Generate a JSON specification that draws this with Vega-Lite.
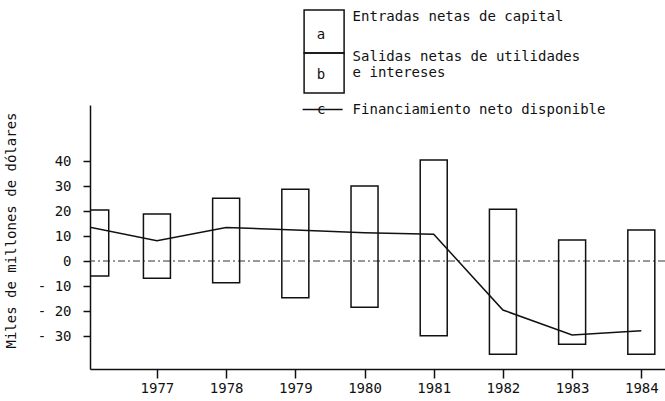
{
  "$schema": "https://vega.github.io/schema/vega-lite/v6.json",
  "width": 575,
  "height": 264,
  "autosize": {"type": "none"},
  "padding": {"left": 90, "top": 105, "right": 0, "bottom": 32},
  "background": "white",
  "config": {
    "font": "DejaVu Sans Mono",
    "view": {"stroke": null},
    "axis": {"labelFont": "DejaVu Sans Mono", "titleFont": "DejaVu Sans Mono", "labelColor": "#111", "titleColor": "#111", "domainColor": "#111", "tickColor": "#111", "grid": false, "labelOverlap": false},
    "legend": {"padding": 0, "labelFont": "DejaVu Sans Mono", "labelFontSize": 14, "labelColor": "#111", "labelLimit": 400, "titleFont": "DejaVu Sans Mono", "titleFontSize": 14, "titleFontWeight": "normal", "titleColor": "#111", "titleOrient": "left", "titleAnchor": "middle", "symbolStrokeColor": "#111", "symbolStrokeWidth": 1.5, "symbolFillColor": "white", "symbolOpacity": 1}
  },
  "datasets": {
    "barras": [
      {"anio": 1976, "serie": "Entradas netas de capital", "valor": 20.4},
      {"anio": 1976, "serie": "Salidas netas de utilidades e intereses", "valor": -6.0},
      {"anio": 1977, "serie": "Entradas netas de capital", "valor": 18.8},
      {"anio": 1977, "serie": "Salidas netas de utilidades e intereses", "valor": -6.9},
      {"anio": 1978, "serie": "Entradas netas de capital", "valor": 25.1},
      {"anio": 1978, "serie": "Salidas netas de utilidades e intereses", "valor": -8.7},
      {"anio": 1979, "serie": "Entradas netas de capital", "valor": 28.7},
      {"anio": 1979, "serie": "Salidas netas de utilidades e intereses", "valor": -14.7},
      {"anio": 1980, "serie": "Entradas netas de capital", "valor": 30.0},
      {"anio": 1980, "serie": "Salidas netas de utilidades e intereses", "valor": -18.5},
      {"anio": 1981, "serie": "Entradas netas de capital", "valor": 40.4},
      {"anio": 1981, "serie": "Salidas netas de utilidades e intereses", "valor": -29.9},
      {"anio": 1982, "serie": "Entradas netas de capital", "valor": 20.7},
      {"anio": 1982, "serie": "Salidas netas de utilidades e intereses", "valor": -37.3},
      {"anio": 1983, "serie": "Entradas netas de capital", "valor": 8.4},
      {"anio": 1983, "serie": "Salidas netas de utilidades e intereses", "valor": -33.3},
      {"anio": 1984, "serie": "Entradas netas de capital", "valor": 12.4},
      {"anio": 1984, "serie": "Salidas netas de utilidades e intereses", "valor": -37.3}
    ],
    "linea": [
      {"anio": 1976, "serie": "Financiamiento neto disponible", "valor": 13.7},
      {"anio": 1977, "serie": "Financiamiento neto disponible", "valor": 8.1},
      {"anio": 1978, "serie": "Financiamiento neto disponible", "valor": 13.4},
      {"anio": 1979, "serie": "Financiamiento neto disponible", "valor": 12.4},
      {"anio": 1980, "serie": "Financiamiento neto disponible", "valor": 11.3},
      {"anio": 1981, "serie": "Financiamiento neto disponible", "valor": 10.7},
      {"anio": 1982, "serie": "Financiamiento neto disponible", "valor": -19.6},
      {"anio": 1983, "serie": "Financiamiento neto disponible", "valor": -29.6},
      {"anio": 1984, "serie": "Financiamiento neto disponible", "valor": -27.9}
    ]
  },
  "layer": [
    {
      "data": {"values": [{}]},
      "mark": {"type": "rule", "stroke": "#333", "strokeWidth": 1, "strokeDash": [7, 3, 2, 3]},
      "encoding": {"y": {"datum": 0, "type": "quantitative"}}
    },
    {
      "data": {"name": "barras"},
      "transform": [{"pivot": "serie", "value": "valor", "groupby": ["anio"]}],
      "mark": {"type": "bar", "orient": "vertical", "fill": "transparent", "stroke": "#111", "strokeWidth": 1.5, "clip": true},
      "encoding": {
        "x": {
          "field": "anio", "type": "quantitative",
          "scale": {"domain": [1976.105, 1984.27], "nice": false, "zero": false},
          "axis": {"values": [1977, 1978, 1979, 1980, 1981, 1982, 1983, 1984], "tickCount": 10, "format": "d", "title": null, "domainWidth": 1.5, "tickWidth": 1.5, "tickSize": 9, "labelFontSize": 14, "labelPadding": 3}
        },
        "y": {
          "field": "Entradas netas de capital", "type": "quantitative",
          "scale": {"domain": [-43.2, 62.4], "nice": false, "zero": false},
          "axis": {"values": [-30, -20, -10, 0, 10, 20, 30, 40], "tickCount": 10, "labelOverlap": false, "labelExpr": "datum.value < 0 ? '- ' + abs(datum.value) : datum.label", "title": "Miles de millones de dólares", "titleFontSize": 14, "titleFontWeight": "normal", "titleX": -79, "titleY": 125, "titleAngle": -90, "titleAlign": "center", "titleBaseline": "middle", "domainWidth": 1.5, "tickWidth": 1.5, "tickSize": 7, "labelFontSize": 14, "labelPadding": 12}
        },
        "y2": {"field": "Salidas netas de utilidades e intereses"},
        "size": {"condition": {"test": "datum.anio == 1976", "value": 42}, "value": 27}
      }
    },
    {
      "data": {"name": "barras"},
      "transform": [{"filter": "datum.serie == 'Entradas netas de capital'"}],
      "mark": {"type": "bar", "orient": "vertical", "fill": "transparent", "strokeWidth": 1.5, "opacity": 0, "clip": true},
      "encoding": {
        "x": {"field": "anio", "type": "quantitative"},
        "y": {"field": "valor", "type": "quantitative"},
        "y2": {"datum": 0},
        "size": {"value": 27},
        "stroke": {
          "field": "serie", "type": "nominal",
          "scale": {"range": ["#111"]},
          "legend": {
            "title": "a", "orient": "none", "legendX": 226.8, "legendY": -91, "titlePadding": -8.7,
            "symbolType": "M-4,-2.2H4V6.4H-4Z", "symbolSize": 100,
            "labelBaseline": "alphabetic", "labelOffset": 21.5
          }
        }
      }
    },
    {
      "data": {"name": "barras"},
      "transform": [{"filter": "datum.serie == 'Salidas netas de utilidades e intereses'"}],
      "mark": {"type": "bar", "orient": "vertical", "fill": "transparent", "strokeWidth": 1.5, "opacity": 0, "clip": true},
      "encoding": {
        "x": {"field": "anio", "type": "quantitative"},
        "y": {"field": "valor", "type": "quantitative"},
        "y2": {"datum": 0},
        "size": {"value": 27},
        "stroke": {
          "field": "serie", "type": "nominal",
          "scale": {"range": ["#111"]},
          "legend": {
            "title": "b", "orient": "none", "legendX": 226.8, "legendY": -50.8, "titlePadding": -8.7,
            "symbolType": "M-4,-1.64H4V6.36H-4Z", "symbolSize": 100,
            "labelBaseline": "alphabetic", "labelOffset": 21.5,
            "labelExpr": "datum.label == 'Salidas netas de utilidades e intereses' ? ['Salidas netas de utilidades', 'e intereses'] : datum.label"
          }
        }
      }
    },
    {
      "data": {"name": "linea"},
      "mark": {"type": "line", "strokeWidth": 1.5, "clip": true},
      "encoding": {
        "x": {"field": "anio", "type": "quantitative"},
        "y": {"field": "valor", "type": "quantitative"},
        "stroke": {
          "field": "serie", "type": "nominal",
          "scale": {"range": ["#111"]},
          "legend": {
            "title": "c", "orient": "none", "legendX": 227, "legendY": -16.5, "titlePadding": -24.4,
            "titleAnchor": "end", "titleBaseline": "bottom",
            "symbolType": "stroke", "symbolSize": 1600,
            "labelBaseline": "middle", "labelOffset": 9
          }
        }
      }
    }
  ],
  "resolve": {"scale": {"stroke": "independent"}, "legend": {"stroke": "independent"}}
}
